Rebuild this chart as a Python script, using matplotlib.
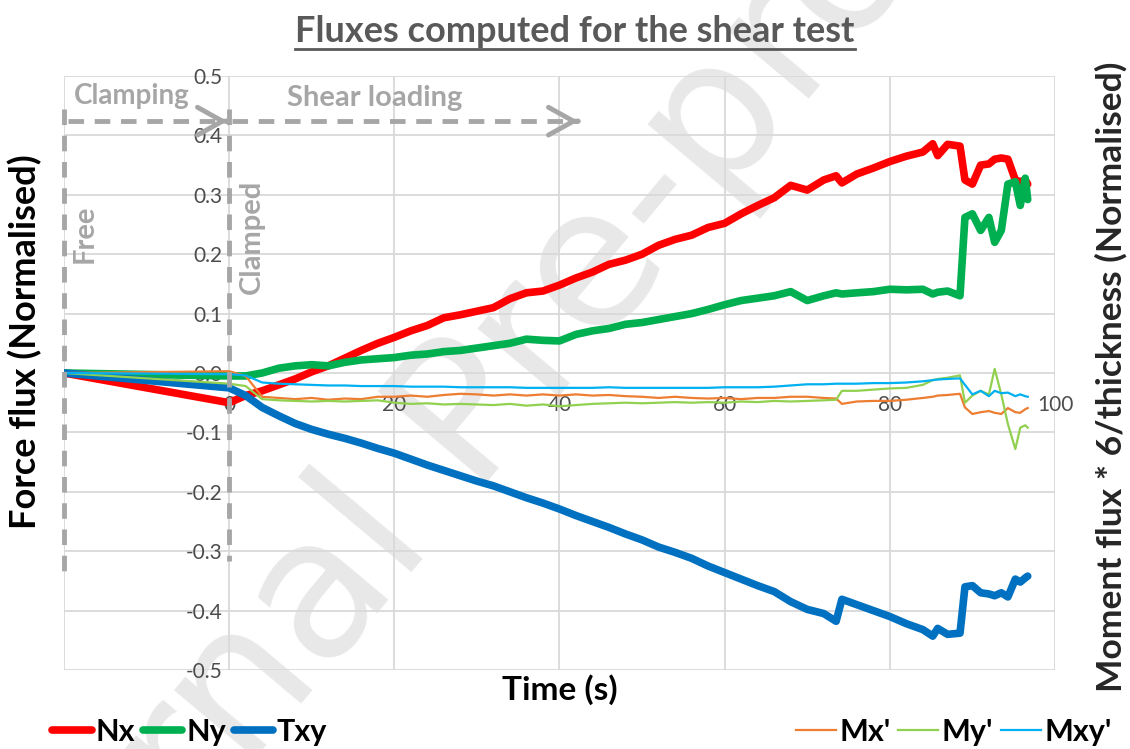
import matplotlib
matplotlib.use("Agg")
import matplotlib.pyplot as plt
from matplotlib.lines import Line2D
from matplotlib.ticker import FormatStrFormatter

plt.rcParams['font.family'] = ['Lato', 'DejaVu Sans']

# time axis (s), shared by all six series
time_s = [-20, 0, 2, 4, 6, 8, 10, 12, 14, 16,
          18, 20, 22, 24, 26, 28, 30, 32, 34, 36,
          38, 40, 42, 44, 46, 48, 50, 52, 54, 56,
          58, 60, 62, 64, 66, 68, 70, 72, 73.5, 74.2,
          76, 78, 80, 82, 84, 85.2, 85.8, 87, 88.5, 89.1,
          90, 91, 92, 92.7, 93.5, 94.3, 95.2, 95.8, 96.4, 96.7]

# force fluxes (normalised)
nx = [0, -0.05, -0.038, -0.03, -0.02, -0.01, 0.002, 0.012, 0.025, 0.038,
      0.05, 0.06, 0.071, 0.08, 0.093, 0.098, 0.104, 0.11, 0.125, 0.135,
      0.138, 0.148, 0.16, 0.17, 0.183, 0.19, 0.2, 0.215, 0.225, 0.232,
      0.245, 0.252, 0.268, 0.282, 0.295, 0.316, 0.308, 0.325, 0.332, 0.32,
      0.335, 0.345, 0.356, 0.365, 0.372, 0.386, 0.366, 0.385, 0.382, 0.325,
      0.318, 0.35, 0.352, 0.36, 0.362, 0.36, 0.325, 0.322, 0.325, 0.318]
ny = [0, -0.005, -0.005, 0.0, 0.008, 0.012, 0.014, 0.012, 0.018, 0.022,
      0.024, 0.026, 0.03, 0.032, 0.036, 0.038, 0.042, 0.046, 0.05, 0.057,
      0.055, 0.054, 0.065, 0.071, 0.075, 0.082, 0.085, 0.09, 0.095, 0.1,
      0.107, 0.115, 0.122, 0.126, 0.13, 0.137, 0.122, 0.13, 0.135, 0.133,
      0.135, 0.137, 0.141, 0.14, 0.141, 0.133, 0.136, 0.138, 0.13, 0.262,
      0.268, 0.24, 0.262, 0.22, 0.24, 0.318, 0.322, 0.282, 0.328, 0.292]
txy = [0, -0.025, -0.038, -0.058, -0.072, -0.085, -0.095, -0.103, -0.11, -0.118,
       -0.127, -0.135, -0.145, -0.155, -0.164, -0.173, -0.182, -0.19, -0.2, -0.21,
       -0.219, -0.229, -0.24, -0.25, -0.26, -0.271, -0.281, -0.293, -0.302, -0.312,
       -0.325, -0.336, -0.347, -0.358, -0.368, -0.385, -0.398, -0.405, -0.418, -0.381,
       -0.39, -0.4, -0.41, -0.422, -0.432, -0.443, -0.43, -0.44, -0.438, -0.36,
       -0.358, -0.37, -0.372, -0.375, -0.37, -0.377, -0.347, -0.352, -0.345, -0.342]

# moment fluxes * 6/thickness (normalised)
mx = [0, 0.003, -0.005, -0.04, -0.042, -0.044, -0.042, -0.045, -0.043, -0.044,
      -0.04, -0.04, -0.038, -0.04, -0.037, -0.035, -0.036, -0.038, -0.036, -0.038,
      -0.036, -0.038, -0.036, -0.038, -0.037, -0.039, -0.04, -0.042, -0.04, -0.042,
      -0.043, -0.042, -0.044, -0.042, -0.042, -0.04, -0.04, -0.042, -0.043, -0.052,
      -0.048, -0.047, -0.047, -0.045, -0.042, -0.04, -0.038, -0.037, -0.035, -0.058,
      -0.069, -0.066, -0.064, -0.067, -0.069, -0.059, -0.066, -0.067, -0.061, -0.059]
my = [0, -0.018, -0.022, -0.044, -0.046, -0.047, -0.048, -0.047, -0.048, -0.047,
      -0.046, -0.05, -0.052, -0.051, -0.053, -0.052, -0.053, -0.054, -0.052, -0.055,
      -0.053, -0.056, -0.054, -0.052, -0.051, -0.05, -0.051, -0.05, -0.049, -0.05,
      -0.049, -0.05, -0.048, -0.049, -0.047, -0.048, -0.047, -0.046, -0.045, -0.03,
      -0.03, -0.028, -0.026, -0.025, -0.02, -0.012, -0.01, -0.008, -0.004, -0.05,
      -0.038, -0.03, -0.036, 0.007, -0.036, -0.086, -0.128, -0.092, -0.088, -0.092]
mxy = [0, -0.002, -0.004, -0.016, -0.018, -0.019, -0.02, -0.021, -0.021, -0.022,
       -0.022, -0.022, -0.023, -0.023, -0.023, -0.024, -0.024, -0.024, -0.024, -0.025,
       -0.025, -0.025, -0.025, -0.025, -0.024, -0.025, -0.025, -0.025, -0.025, -0.025,
       -0.025, -0.024, -0.024, -0.024, -0.023, -0.021, -0.019, -0.019, -0.018, -0.018,
       -0.018, -0.017, -0.017, -0.016, -0.014, -0.012, -0.011, -0.01, -0.009, -0.02,
       -0.036, -0.03, -0.039, -0.03, -0.034, -0.033, -0.039, -0.036, -0.039, -0.04]

x_ticks = [-20, 0, 20, 40, 60, 80, 100]
x_tick_labels = ['', '0', '20', '40', '60', '80', '100']
y_ticks = [-0.5, -0.4, -0.3, -0.2, -0.1, 0.0, 0.1, 0.2, 0.3, 0.4, 0.5]

GRAY = '#a6a6a6'
DARK = '#595959'

fig = plt.figure(figsize=(11.3, 7.49), dpi=100)

# watermark behind everything
fig.text(0.43, 0.45, 'Journal Pre-proof', rotation=50, fontsize=140,
         color='#e8e8e8', ha='center', va='center', zorder=-5,
         family=['DejaVu Sans'])

ax = fig.add_axes([0.0566, 0.1055, 0.8770, 0.7930])
ax.patch.set_alpha(0)
ax.set_xlim(-20, 100)
ax.set_ylim(-0.5, 0.5)
ax.set_xticks(x_ticks)
ax.set_xticklabels(x_tick_labels)
ax.set_yticks(y_ticks)
ax.yaxis.set_major_formatter(FormatStrFormatter('%.1f'))
ax.grid(True, color='#d9d9d9', lw=1.3)
ax.set_axisbelow(True)
for s in ax.spines.values():
    s.set_visible(False)
ax.spines['left'].set_position(('data', 0))
ax.spines['bottom'].set_position(('data', 0))
ax.tick_params(axis='both', length=0, labelsize=15, labelcolor='#4d4d4d')
ax.tick_params(axis='x', pad=16)
ax.tick_params(axis='y', pad=5)

# thick force lines
h_nx, = ax.plot(time_s, nx, color='#ff0000', lw=5.5, solid_joinstyle='round', solid_capstyle='round', zorder=3)
h_ny, = ax.plot(time_s, ny, color='#00b050', lw=5.5, solid_joinstyle='round', solid_capstyle='round', zorder=3)
h_txy, = ax.plot(time_s, txy, color='#0070c0', lw=5.5, solid_joinstyle='round', solid_capstyle='round', zorder=3)
# thin moment lines on top
h_mx, = ax.plot(time_s, mx, color='#ed7d31', lw=1.6, zorder=4)
h_my, = ax.plot(time_s, my, color='#92d050', lw=1.6, zorder=4)
h_mxy, = ax.plot(time_s, mxy, color='#00b0f0', lw=1.6, zorder=4)

# phase annotations
dash = (0, (3.2, 2.2))
ax.plot([-20, -20], [0.444, -0.347], color=GRAY, lw=3.5, ls=dash, clip_on=False, zorder=5)
ax.plot([0, 0], [0.444, -0.317], color=GRAY, lw=3.5, ls=dash, clip_on=False, zorder=5)
ax.plot([-19.5, -0.5], [0.424, 0.424], color=GRAY, lw=3.5, ls=dash, zorder=5)
ax.plot([0.3, 42], [0.424, 0.424], color=GRAY, lw=3.5, ls=dash, zorder=5)
for tip in (-0.2, 42.3):
    ax.annotate('', xy=(tip, 0.424), xytext=(tip - 0.1, 0.424),
                arrowprops=dict(arrowstyle='->,head_length=0.9,head_width=0.5',
                                color=GRAY, lw=3.5, mutation_scale=20), zorder=5)
ax.text(-18.8, 0.466, 'Clamping', color=GRAY, fontsize=20, fontweight='bold', va='center')
ax.text(7.0, 0.463, 'Shear loading', color=GRAY, fontsize=21, fontweight='bold', va='center')
ax.text(-17.5, 0.234, 'Free', color=GRAY, fontsize=21, fontweight='bold',
        rotation=90, ha='center', va='center')
ax.text(2.8, 0.229, 'Clamped', color=GRAY, fontsize=21, fontweight='bold',
        rotation=90, ha='center', va='center')

# titles and axis labels
title = fig.text(575 / 1130, 1 - 31 / 749, 'Fluxes computed for the shear test',
                 fontsize=26, fontweight='bold', color=DARK, ha='center', va='center')
fig.text(25 / 1130, 1 - 342 / 749, 'Force flux (Normalised)', rotation=90,
         fontsize=26, fontweight='bold', ha='center', va='center')
fig.text(1111 / 1130, 1 - 377 / 749, 'Moment flux * 6/thickness (Normalised)', rotation=90,
         fontsize=25.5, fontweight='bold', color='#262626', ha='center', va='center')
fig.text(560 / 1130, 1 - 690 / 749, 'Time (s)', fontsize=24, fontweight='bold',
         ha='center', va='center')

# legends
leg_kw = dict(frameon=False, ncol=3, handletextpad=0.12, columnspacing=0.25,
              prop={'weight': 'bold', 'size': 22}, borderaxespad=0)
fig.legend([h_nx, h_ny, h_txy], ['Nx', 'Ny', 'Txy'], loc='center left',
           bbox_to_anchor=(40 / 1130, 1 - 732 / 749), handlelength=1.3, **leg_kw)
fig.legend([h_mx, h_my, h_mxy], ["Mx'", "My'", "Mxy'"], loc='center right',
           bbox_to_anchor=(1124 / 1130, 1 - 732 / 749), handlelength=1.3, **leg_kw)

# underline the title
fig.canvas.draw()
bb = title.get_window_extent().transformed(fig.transFigure.inverted())
fig.add_artist(Line2D([bb.x0, bb.x1], [bb.y0 - 0.002, bb.y0 - 0.002],
                      transform=fig.transFigure, color=DARK, lw=2))

fig.savefig('out.png', dpi=100)
